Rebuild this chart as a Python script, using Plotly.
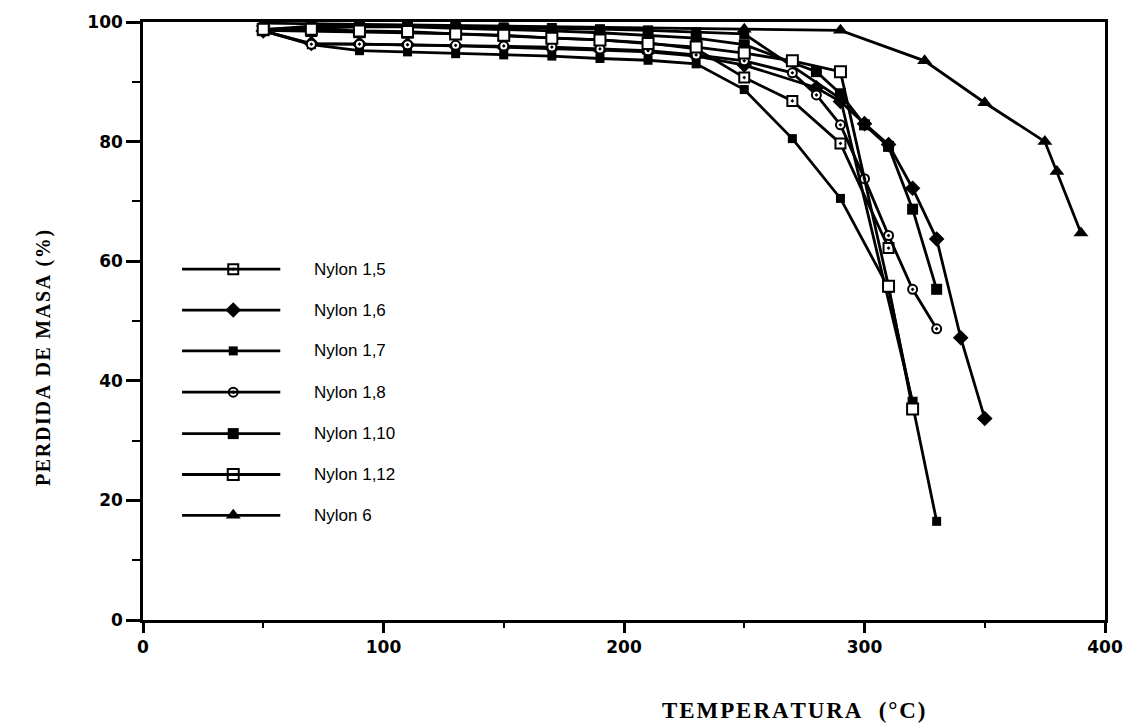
import plotly.graph_objects as go

# ---------------- data ----------------
T_low = [50, 70, 90, 110, 130, 150, 170, 190, 210, 230, 250]

nylon_15_T = T_low + [270, 290, 310]
nylon_15 = [98.6, 98.5, 98.3, 98.2, 98.0, 97.7, 97.4, 97.0, 96.5, 95.5, 90.7, 86.8, 79.7, 62.2]

nylon_16_T = T_low + [280, 290, 300, 310, 320, 330, 340, 350]
nylon_16 = [98.5, 96.4, 96.3, 96.2, 96.0, 95.8, 95.6, 95.3, 95.0, 94.3, 92.8, 89.0, 86.7, 83.0, 79.5, 72.2, 63.7, 47.2, 33.7]

nylon_17_T = T_low + [270, 290, 310, 330]
nylon_17 = [98.5, 96.2, 95.2, 95.0, 94.7, 94.5, 94.3, 93.9, 93.6, 93.0, 88.7, 80.5, 70.5, 55.5, 16.5]

nylon_18_T = T_low + [270, 280, 290, 300, 310, 320, 330]
nylon_18 = [98.5, 96.3, 96.3, 96.2, 96.1, 96.0, 95.8, 95.5, 95.2, 94.5, 93.5, 91.5, 87.8, 82.8, 73.8, 64.3, 55.3, 48.7]

nylon_110_T = T_low + [280, 290, 300, 310, 320, 330]
nylon_110 = [98.7, 99.0, 99.2, 99.2, 99.0, 98.8, 98.5, 98.2, 97.7, 97.3, 96.2, 91.7, 88.0, 82.8, 79.2, 68.7, 55.3]

nylon_112_T = T_low + [270, 290, 310, 320]
nylon_112 = [98.8, 98.8, 98.5, 98.4, 98.0, 97.8, 97.3, 97.0, 96.4, 95.8, 94.8, 93.5, 91.7, 55.8, 35.3]

nylon_6_T = [50, 250, 290, 325, 350, 375, 380, 390]
nylon_6 = [99.8, 98.8, 98.6, 93.5, 86.5, 80.0, 75.0, 64.7]

# extra filled-square curve drawn in the figure (no legend entry)
extra_T = T_low + [290, 320]
extra = [98.7, 99.3, 99.4, 99.4, 99.2, 99.1, 99.0, 98.8, 98.6, 98.3, 98.0, 87.2, 36.5]

series_names = ["Nylon 1,5", "Nylon 1,6", "Nylon 1,7", "Nylon 1,8",
                "Nylon 1,10", "Nylon 1,12", "Nylon 6"]

x_ticks = [0, 100, 200, 300, 400]
y_ticks = [0, 20, 40, 60, 80, 100]

x_title = "TEMPERATURA  (°C)"
y_title = "PERDIDA DE MASA (%)"


def spaced(text, sep):
    return sep.join(list(text))


# ---------------- styles ----------------
BLACK = "black"
styles = {
    "Nylon 1,5": dict(symbol="square-dot", size=10, color="white", line=dict(color=BLACK, width=2)),
    "Nylon 1,6": dict(symbol="diamond", size=12, color=BLACK, line=dict(color=BLACK, width=0)),
    "Nylon 1,7": dict(symbol="square", size=9, color=BLACK, line=dict(color=BLACK, width=0)),
    "Nylon 1,8": dict(symbol="circle-dot", size=9, color="white", line=dict(color=BLACK, width=2)),
    "Nylon 1,10": dict(symbol="square", size=11, color=BLACK, line=dict(color=BLACK, width=0)),
    "Nylon 1,12": dict(symbol="square", size=11, color="white", line=dict(color=BLACK, width=2)),
    "Nylon 6": dict(symbol="triangle-up", size=13, color=BLACK, line=dict(color=BLACK, width=0)),
}
LW = 2.8

data_map = {
    "Nylon 1,5": (nylon_15_T, nylon_15),
    "Nylon 1,6": (nylon_16_T, nylon_16),
    "Nylon 1,7": (nylon_17_T, nylon_17),
    "Nylon 1,8": (nylon_18_T, nylon_18),
    "Nylon 1,10": (nylon_110_T, nylon_110),
    "Nylon 1,12": (nylon_112_T, nylon_112),
    "Nylon 6": (nylon_6_T, nylon_6),
}

fig = go.Figure()

fig.add_trace(go.Scatter(x=extra_T, y=extra, mode="lines+markers", showlegend=False,
                         line=dict(color=BLACK, width=LW),
                         marker=dict(symbol="square", size=10, color=BLACK)))

draw_order = ["Nylon 6", "Nylon 1,7", "Nylon 1,10", "Nylon 1,6", "Nylon 1,5", "Nylon 1,8", "Nylon 1,12"]
for name in draw_order:
    xs, ys = data_map[name]
    fig.add_trace(go.Scatter(x=xs, y=ys, mode="lines+markers", name=name, showlegend=False,
                             line=dict(color=BLACK, width=LW), marker=styles[name]))

# ---------------- manual legend (layout positions in paper units) ----------------
leg_x0, leg_x1, leg_xm, leg_text_x = 0.0406, 0.1427, 0.0938, 0.176
leg_rows = [0.5867, 0.5183, 0.45, 0.381, 0.3117, 0.2433, 0.175]
for name, yy in zip(series_names, leg_rows):
    fig.add_shape(type="line", xref="paper", yref="paper", x0=leg_x0, x1=leg_x1, y0=yy, y1=yy,
                  line=dict(color=BLACK, width=LW))
    fig.add_trace(go.Scatter(x=[leg_xm], y=[yy], xaxis="x2", yaxis="y2", mode="markers",
                             showlegend=False, marker=styles[name], hoverinfo="skip"))
    fig.add_annotation(x=leg_text_x, y=yy, xref="paper", yref="paper", text=name,
                       showarrow=False, xanchor="left", yanchor="middle",
                       font=dict(family="Liberation Sans, Arial", size=17, color=BLACK))

# axis titles (slightly letter-spaced like the original typeset labels)
fig.add_annotation(x=0.677, y=-0.152, xref="paper", yref="paper", text=spaced(x_title, "\u200a"),
                   showarrow=False, xanchor="center", yanchor="middle",
                   font=dict(family="Liberation Serif, Times New Roman", size=23, color=BLACK, weight="bold"))
fig.add_annotation(x=-0.104, y=0.438, xref="paper", yref="paper", text=spaced(y_title, "\u200a"),
                   showarrow=False, textangle=-90, xanchor="center", yanchor="middle",
                   font=dict(family="Liberation Serif, Times New Roman", size=20, color=BLACK, weight="bold"))

tickfont = dict(family="DejaVu Sans, Liberation Sans", size=17, color=BLACK, weight="bold")
fig.update_layout(
    width=1136, height=726,
    margin=dict(l=143, r=31, t=20, b=106),
    paper_bgcolor="white", plot_bgcolor="white",
    showlegend=False,
    xaxis=dict(range=[0, 400], tickvals=x_ticks, showgrid=False, zeroline=False,
               showline=True, linecolor=BLACK, linewidth=2.5, mirror=True,
               ticks="outside", ticklen=10, tickwidth=2.5, tickcolor=BLACK,
               minor=dict(dtick=50, ticks="outside", ticklen=5, tickwidth=2, tickcolor=BLACK),
               tickfont=tickfont),
    yaxis=dict(range=[0, 100], tickvals=y_ticks, showgrid=False, zeroline=False,
               showline=True, linecolor=BLACK, linewidth=2.5, mirror=True,
               ticks="outside", ticklen=14, tickwidth=2.5, tickcolor=BLACK,
               minor=dict(dtick=10, ticks="outside", ticklen=8, tickwidth=2, tickcolor=BLACK),
               tickfont=tickfont),
    xaxis2=dict(range=[0, 1], overlaying="x", visible=False, domain=[0, 1]),
    yaxis2=dict(range=[0, 1], overlaying="y", visible=False, domain=[0, 1]),
)

fig.write_html("out.html")
